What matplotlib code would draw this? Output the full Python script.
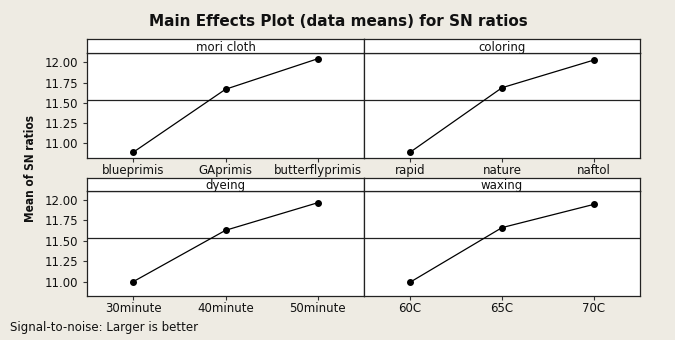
import matplotlib
matplotlib.use("Agg")
import matplotlib.pyplot as plt
import numpy as np

# ---- data ----
factors = ["mori cloth", "coloring", "dyeing", "waxing"]
levels_mori = ["blueprimis", "GAprimis", "butterflyprimis"]
levels_coloring = ["rapid", "nature", "naftol"]
levels_dyeing = ["30minute", "40minute", "50minute"]
levels_waxing = ["60C", "65C", "70C"]
sn_mori = [10.889, 11.667, 12.044]
sn_coloring = [10.889, 11.686, 12.028]
sn_dyeing = [11.000, 11.629, 11.967]
sn_waxing = [10.993, 11.662, 11.947]
yticks = [11.00, 11.25, 11.50, 11.75, 12.00]

levels = [levels_mori, levels_coloring, levels_dyeing, levels_waxing]
values = [sn_mori, sn_coloring, sn_dyeing, sn_waxing]
grand_mean = np.mean(np.concatenate([np.array(v) for v in values]))

W, H = 675, 340
BG = "#EEEBE3"
fig = plt.figure(figsize=(W / 100, H / 100), dpi=100, facecolor=BG)

def fr(x0, y0, x1, y1):
    # pixel box (top-left origin) -> figure fraction rect
    return [x0 / W, 1 - y1 / H, (x1 - x0) / W, (y1 - y0) / H]

cols = [(87, 364), (364, 640)]
rows = [dict(strip=(39.3, 53.3), ax=(53.3, 158.3), ylim=(10.815, 12.111)),
        dict(strip=(177.7, 190.7), ax=(190.7, 296.0), ylim=(10.825, 12.114))]

FS = 8.5
for i in range(4):
    r, c = divmod(i, 2)
    x0, x1 = cols[c]
    row = rows[r]
    ax = fig.add_axes(fr(x0, row["ax"][0], x1, row["ax"][1]))
    ax.set_facecolor("white")
    x = np.arange(len(levels[i]))
    ax.axhline(grand_mean, color="#222222", lw=0.9, zorder=1)
    ax.plot(x, values[i], color="black", lw=0.9, marker="o", ms=4, zorder=3)
    ax.set_xlim(-0.5, 2.5)
    ax.set_ylim(*row["ylim"])
    ax.set_xticks(x)
    ax.set_xticklabels(levels[i], fontsize=FS, color="#111111")
    ax.set_yticks(yticks)
    if c == 0:
        ax.set_yticklabels([f"{t:.2f}" for t in yticks], fontsize=FS, color="#111111")
    else:
        ax.tick_params(axis="y", left=False, labelleft=False)
    ax.tick_params(axis="x", length=3, width=0.8, pad=1.0, color="#333333")
    ax.tick_params(axis="y", length=3, width=0.8, pad=3.5, color="#333333")
    for s in ax.spines.values():
        s.set_color("#222222")
        s.set_linewidth(0.9)
    # strip
    sa = fig.add_axes(fr(x0, row["strip"][0], x1, row["strip"][1]))
    sa.set_facecolor("white")
    sa.set_xticks([]); sa.set_yticks([])
    for s in sa.spines.values():
        s.set_color("#222222")
        s.set_linewidth(0.9)
    sa.text(0.5, 0.5, factors[i], ha="center", va="center_baseline", fontsize=FS,
            color="#111111", transform=sa.transAxes)

fig.text(338 / W, 1 - 21 / H, "Main Effects Plot (data means) for SN ratios",
         ha="center", va="center", fontsize=11, fontweight="bold", color="#111111")
fig.text(30 / W, 1 - 168 / H, "Mean of SN ratios", rotation=90, ha="center", va="center",
         fontsize=8.5, fontweight="bold", fontstretch="condensed",
         family=["DejaVu Sans"], color="#111111")
fig.text(10 / W, 1 - 328 / H, "Signal-to-noise: Larger is better", ha="left", va="center",
         fontsize=FS, color="#111111")

fig.savefig("out.png", dpi=100, facecolor=BG)
